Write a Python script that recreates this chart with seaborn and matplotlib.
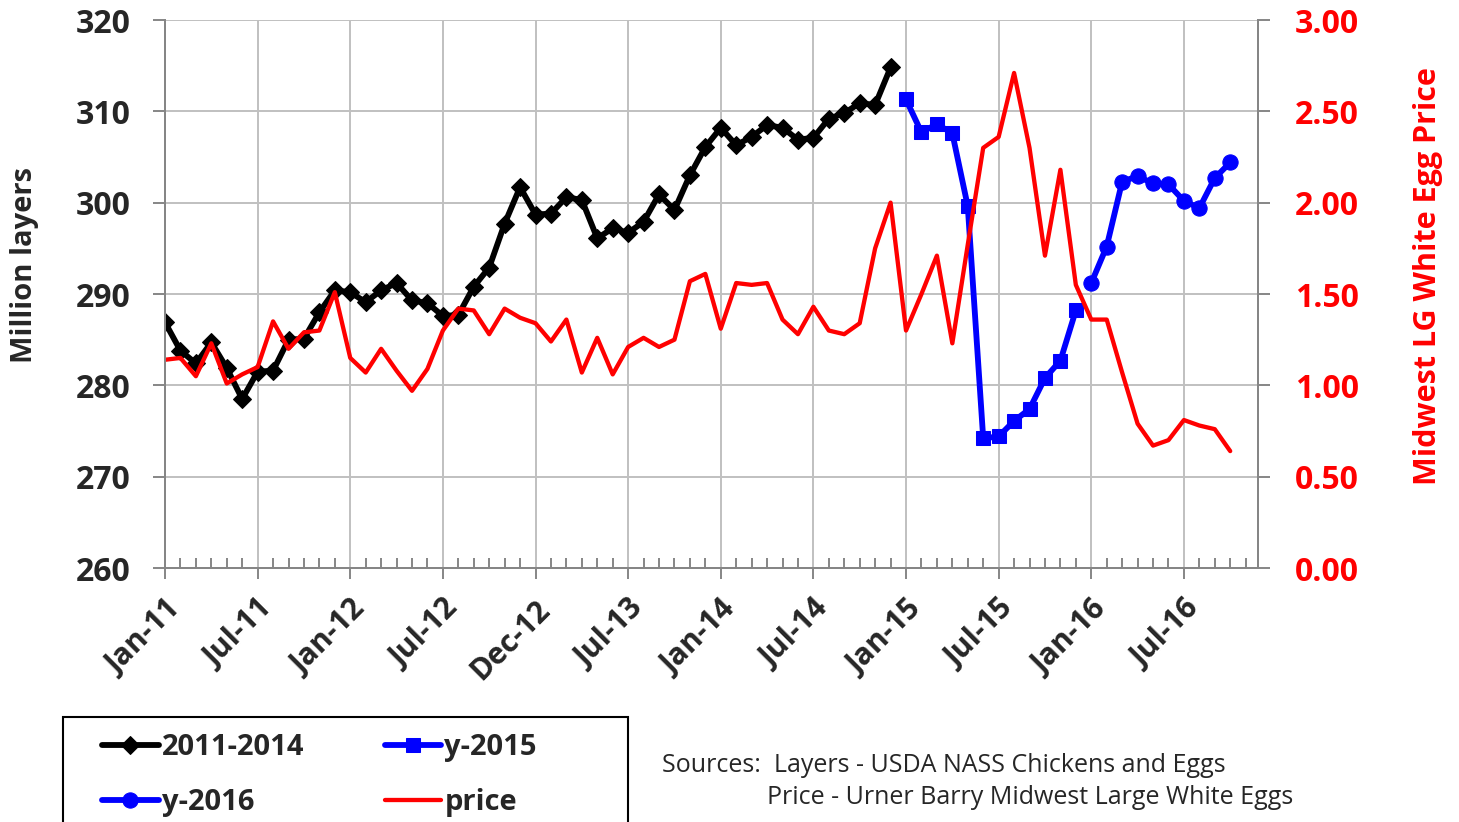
"""
Layer inventory vs. Midwest large white egg price, Jan-11 .. Oct-16.
"""

import numpy as np
import pandas as pd
import matplotlib
matplotlib.use("Agg")
import matplotlib.pyplot as plt
import seaborn as sns
from matplotlib.patches import Rectangle
from matplotlib.ticker import FormatStrFormatter

# million layers, monthly
layers_2011_2014 = [
    286.9, 283.8, 282.4, 284.7, 281.9, 278.5, 281.5, 281.6, 285.0, 285.1, 288.0, 290.4,
    290.2, 289.1, 290.4, 291.2, 289.3, 289.0, 287.6, 287.7, 290.8, 292.9, 297.7, 301.7,
    298.7, 298.8, 300.6, 300.3, 296.1, 297.2, 296.7, 297.9, 300.9, 299.2, 303.0, 306.1,
    308.2, 306.3, 307.2, 308.5, 308.2, 306.9, 307.1, 309.2, 309.8, 310.9, 310.7, 314.8,
]
layers_2015 = [311.3, 307.7, 308.6, 307.6, 299.6, 274.2, 274.4, 276.1, 277.4, 280.8, 282.7, 288.2]
layers_2016 = [291.2, 295.2, 302.3, 302.9, 302.1, 302.0, 300.2, 299.4, 302.7, 304.4]

# Urner Barry Midwest large white, $/dozen
price = [
    1.14, 1.15, 1.05, 1.23, 1.01, 1.06, 1.10, 1.35, 1.20, 1.29, 1.30, 1.51,
    1.15, 1.07, 1.20, 1.08, 0.97, 1.09, 1.30, 1.42, 1.41, 1.28, 1.42, 1.37,
    1.34, 1.24, 1.36, 1.07, 1.26, 1.06, 1.21, 1.26, 1.21, 1.25, 1.57, 1.61,
    1.31, 1.56, 1.55, 1.56, 1.36, 1.28, 1.43, 1.30, 1.28, 1.34, 1.75, 2.00,
    1.30, 1.50, 1.71, 1.23, 1.77, 2.30, 2.36, 2.71, 2.30, 1.71, 2.18, 1.55,
    1.36, 1.36, 1.07, 0.79, 0.67, 0.70, 0.81, 0.78, 0.76, 0.64,
]

tick_labels = ["Jan-11", "Jul-11", "Jan-12", "Jul-12", "Dec-12", "Jul-13",
               "Jan-14", "Jul-14", "Jan-15", "Jul-15", "Jan-16", "Jul-16"]

# month index for each series
n0, n1 = len(layers_2011_2014), len(layers_2015)
df_a = pd.DataFrame({"m": np.arange(n0), "v": layers_2011_2014})
df_b = pd.DataFrame({"m": np.arange(n0, n0 + n1), "v": layers_2015})
df_c = pd.DataFrame({"m": np.arange(n0 + n1, n0 + n1 + len(layers_2016)), "v": layers_2016})
df_p = pd.DataFrame({"m": np.arange(len(price)), "v": price})

sns.set_theme(style="white")
FONT = ["Open Sans", "DejaVu Sans"]
plt.rcParams["font.family"] = FONT

W, H = 1459, 822
fig = plt.figure(figsize=(W / 100, H / 100), dpi=100)
ax = fig.add_axes([165 / W, 1 - 568 / H, (1258 - 165) / W, (568 - 20) / H])
ax2 = ax.twinx()

axis_gray = "#868686"
grid_gray = "#C0C0C0"

sns.lineplot(data=df_a, x="m", y="v", ax=ax, color="black", lw=4.2, marker="D",
             markersize=9.5, markeredgecolor="black", label="2011-2014")
sns.lineplot(data=df_b, x="m", y="v", ax=ax, color="#0000FF", lw=4.2, marker="s",
             markersize=9.5, markeredgecolor="#0000FF", label="y-2015")
sns.lineplot(data=df_c, x="m", y="v", ax=ax, color="#0000FF", lw=4.2, marker="o",
             markersize=11, markeredgecolor="#0000FF", label="y-2016")
sns.lineplot(data=df_p, x="m", y="v", ax=ax2, color="#FF0000", lw=3.1, label="price")

h1, l1 = ax.get_legend_handles_labels()
h2, l2 = ax2.get_legend_handles_labels()
ax.get_legend().remove()
ax2.get_legend().remove()

# left axis
ax.set_xlim(0, 70.8)
ax.set_ylim(260, 320)
ax.set_yticks(np.arange(260, 321, 10))
ax.set_xticks(np.arange(0, 6 * len(tick_labels), 6))
ax.set_xticks(np.arange(0, 71), minor=True)
ax.set_xticklabels(tick_labels, rotation=45, ha="right", va="top",
                   rotation_mode="anchor", fontsize=21.5, fontweight="bold")
for t in ax.get_yticklabels():
    t.set_fontsize(23)
    t.set_fontweight("bold")
ax.grid(True, which="major", color=grid_gray, lw=1.4)
ax.set_xlabel("")
ax.set_ylabel("Million layers", fontsize=21, fontweight="bold")
# label anchor is its right edge on screen
ax.yaxis.set_label_coords((39 - 165) / 1093, (568 - 265) / 548)
ax.tick_params(axis="y", direction="out", length=8.5, width=1.4, color=axis_gray, pad=16, left=True)
ax.tick_params(axis="x", which="major", direction="out", length=8, width=1.4,
               color=axis_gray, pad=11, bottom=True)
ax.tick_params(axis="x", which="minor", direction="in", length=7, width=1.4,
               color=axis_gray, bottom=True)

# right axis
ax2.set_ylim(0, 3)
ax2.set_yticks(np.arange(0, 3.01, 0.5))
ax2.yaxis.set_major_formatter(FormatStrFormatter("%.2f"))
for t in ax2.get_yticklabels():
    t.set_fontsize(23)
    t.set_fontweight("bold")
    t.set_color("#FF0000")
ax2.set_ylabel("Midwest LG White Egg Price", fontsize=22, fontweight="bold",
               color="#FF0000", rotation=90)
# label anchor is its left edge on screen
ax2.yaxis.set_label_coords((1413 - 165) / 1093, (568 - 276) / 548)
ax2.tick_params(axis="y", direction="out", length=8.5, width=1.4, color=axis_gray, pad=18, right=True)
ax2.grid(False)

for a in (ax, ax2):
    a.spines["top"].set_visible(False)
    for s in ("left", "right", "bottom"):
        a.spines[s].set_color(axis_gray)
        a.spines[s].set_linewidth(1.4)

# legend, two columns: row 1 = 2011-2014 / y-2015, row 2 = y-2016 / price
handles = [h1[0], h1[2], h1[1], h2[0]]
labels = [l1[0], l1[2], l1[1], l2[0]]
fig.legend(handles, labels, loc="upper left", bbox_to_anchor=(102 / W, 1 - 733 / H),
           ncol=2, frameon=False, prop={"family": FONT, "weight": "bold", "size": 21},
           handlelength=1.95, handletextpad=0.1, columnspacing=2.75, labelspacing=0.9,
           borderpad=0, borderaxespad=0)
fig.add_artist(Rectangle((63 / W, -0.05), (628 - 63) / W, 0.05 + 1 - 717 / H,
                         transform=fig.transFigure, fill=False, edgecolor="black",
                         lw=1.5, clip_on=False))

fig.text(662 / W, 1 - 765 / H, "Sources:  Layers - USDA NASS Chickens and Eggs",
         fontsize=18, va="center", ha="left")
fig.text(767 / W, 1 - 797 / H, "Price - Urner Barry Midwest Large White Eggs",
         fontsize=18, va="center", ha="left")

fig.savefig("out.png", dpi=100)
